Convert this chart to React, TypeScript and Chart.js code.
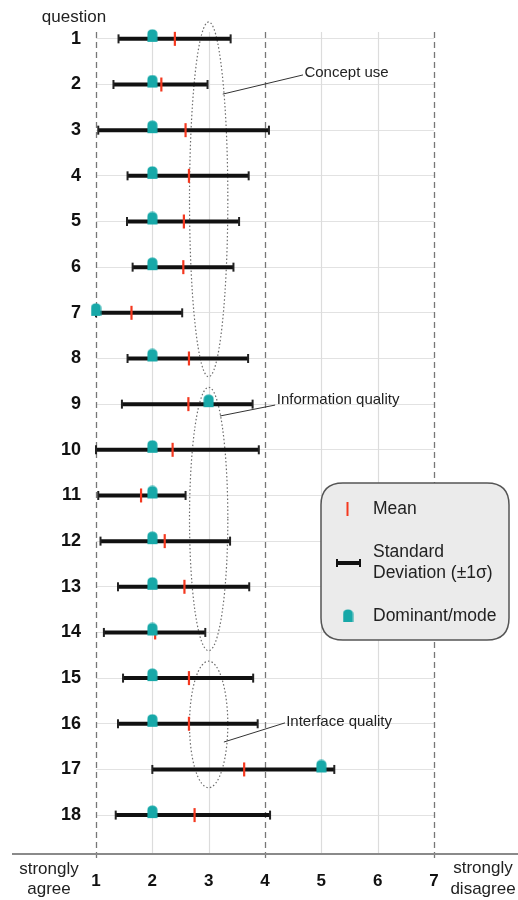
import React, { useEffect, useRef } from 'react';
import { Chart, registerables } from 'chart.js';

Chart.register(...registerables);

// ---------- data ----------
const questions = ['1', '2', '3', '4', '5', '6', '7', '8', '9', '10', '11', '12', '13', '14', '15', '16', '17', '18'];
const sdLow = [1.40, 1.31, 1.04, 1.56, 1.55, 1.65, 1.00, 1.56, 1.46, 1.00, 1.04, 1.08, 1.39, 1.14, 1.48, 1.39, 2.00, 1.35];
const sdHigh = [3.39, 2.98, 4.07, 3.71, 3.54, 3.44, 2.53, 3.70, 3.78, 3.89, 2.59, 3.38, 3.72, 2.94, 3.79, 3.87, 5.23, 4.09];
const means = [2.40, 2.16, 2.59, 2.65, 2.56, 2.55, 1.63, 2.65, 2.64, 2.36, 1.80, 2.22, 2.57, 2.05, 2.65, 2.65, 3.63, 2.75];
const modes = [2, 2, 2, 2, 2, 2, 1, 2, 3, 2, 2, 2, 2, 2, 2, 2, 5, 2];
const xTicks = [1, 2, 3, 4, 5, 6, 7];
const dashedTicks = [1, 4, 7];
const groupNames = ['Concept use', 'Information quality', 'Interface quality'];
const groupFirst = [1, 9, 15];
const groupLast = [8, 14, 17];

// ---------- layout / style ----------
const FONT = '"Liberation Sans", Arial, Helvetica, sans-serif';
const TEAL = '#17a8a8';
const RED = '#f4381f';
const BAR = '#111111';
const W = 518;
const H = 900;
// annotation leader lines, in data units [x, row]
const annot = [
  { from: [3.25, 2.21], to: [4.675, 1.79], text: [4.70, 1.74] },
  { from: [3.20, 9.26], to: [4.18, 9.02], text: [4.21, 8.91] },
  { from: [3.27, 16.40], to: [4.355, 15.98], text: [4.375, 15.96] },
];

const rows = questions.map((_, i) => i + 1);

function makeModeIcon(): HTMLCanvasElement {
  const c = document.createElement('canvas');
  c.width = 11;
  c.height = 20;
  const g = c.getContext('2d')!;
  g.fillStyle = TEAL;
  g.beginPath();
  g.moveTo(0.5, 13);
  g.lineTo(0.5, 5);
  g.quadraticCurveTo(0.5, 0.5, 5.5, 0.5);
  g.quadraticCurveTo(10.5, 0.5, 10.5, 5);
  g.lineTo(10.5, 13);
  g.closePath();
  g.fill();
  return c;
}

const decorPlugin = {
  id: 'decor',
  beforeDatasetsDraw(chart: any) {
    const { ctx, chartArea, scales } = chart;
    const xs = scales.x;
    const ys = scales.y;
    ctx.save();
    // vertical grid lines
    xTicks.forEach((v) => {
      const px = Math.round(xs.getPixelForValue(v)) + 0.5;
      ctx.beginPath();
      if (dashedTicks.includes(v)) {
        ctx.setLineDash([6, 4]);
        ctx.strokeStyle = '#777777';
        ctx.lineWidth = 1.3;
        ctx.moveTo(px, chartArea.top);
        ctx.lineTo(px, chartArea.bottom + 7);
      } else {
        ctx.setLineDash([]);
        ctx.strokeStyle = '#dcdcdc';
        ctx.lineWidth = 1.2;
        ctx.moveTo(px, chartArea.top);
        ctx.lineTo(px, chartArea.bottom);
      }
      ctx.stroke();
    });
    // dotted group ellipses
    ctx.setLineDash([1.5, 2.2]);
    ctx.strokeStyle = '#6c6c6c';
    ctx.lineWidth = 1.2;
    groupNames.forEach((_, i) => {
      const top = ys.getPixelForValue(groupFirst[i] - 0.37);
      const bottom = ys.getPixelForValue(groupLast[i] + 0.4);
      const cx = xs.getPixelForValue(3);
      const rx = xs.getPixelForValue(3.34) - cx;
      ctx.beginPath();
      ctx.ellipse(cx, (top + bottom) / 2, rx, (bottom - top) / 2, 0, 0, Math.PI * 2);
      ctx.stroke();
    });
    ctx.restore();
  },
  afterDatasetsDraw(chart: any) {
    const { ctx, chartArea, scales } = chart;
    const xs = scales.x;
    const ys = scales.y;
    ctx.save();
    // bottom axis line
    ctx.strokeStyle = '#8a8a8a';
    ctx.lineWidth = 2;
    ctx.beginPath();
    ctx.moveTo(12, chartArea.bottom + 1);
    ctx.lineTo(W, chartArea.bottom + 1);
    ctx.stroke();

    // annotations
    ctx.strokeStyle = '#333';
    ctx.lineWidth = 1;
    ctx.fillStyle = '#222';
    ctx.font = `15px ${FONT}`;
    ctx.textBaseline = 'middle';
    ctx.textAlign = 'left';
    annot.forEach((a, i) => {
      ctx.beginPath();
      ctx.moveTo(xs.getPixelForValue(a.from[0]), ys.getPixelForValue(a.from[1]));
      ctx.lineTo(xs.getPixelForValue(a.to[0]), ys.getPixelForValue(a.to[1]));
      ctx.stroke();
      ctx.fillText(groupNames[i], xs.getPixelForValue(a.text[0]), ys.getPixelForValue(a.text[1]));
    });

    // axis captions
    ctx.font = `17px ${FONT}`;
    ctx.fillStyle = '#222';
    ctx.textAlign = 'center';
    ctx.fillText('question', 74, 17);
    ctx.fillText('strongly', 49, 869);
    ctx.fillText('agree', 49, 889);
    ctx.fillText('strongly', 483, 868);
    ctx.fillText('disagree', 483, 889);

    // legend box
    const bx = 321, by = 483, bw = 188, bh = 157, r = 22;
    ctx.beginPath();
    ctx.moveTo(bx + r, by);
    ctx.lineTo(bx + bw - r, by);
    ctx.quadraticCurveTo(bx + bw, by, bx + bw, by + r);
    ctx.lineTo(bx + bw, by + bh - r);
    ctx.quadraticCurveTo(bx + bw, by + bh, bx + bw - r, by + bh);
    ctx.lineTo(bx + r, by + bh);
    ctx.quadraticCurveTo(bx, by + bh, bx, by + bh - r);
    ctx.lineTo(bx, by + r);
    ctx.quadraticCurveTo(bx, by, bx + r, by);
    ctx.closePath();
    ctx.fillStyle = '#ebebeb';
    ctx.fill();
    ctx.strokeStyle = '#555';
    ctx.lineWidth = 1.5;
    ctx.stroke();

    // legend: mean
    ctx.strokeStyle = RED;
    ctx.lineWidth = 2;
    ctx.beginPath();
    ctx.moveTo(347.5, 502);
    ctx.lineTo(347.5, 516);
    ctx.stroke();
    // legend: sd
    ctx.strokeStyle = BAR;
    ctx.lineWidth = 4;
    ctx.beginPath();
    ctx.moveTo(336, 563);
    ctx.lineTo(361, 563);
    ctx.stroke();
    ctx.lineWidth = 2;
    ctx.beginPath();
    ctx.moveTo(337, 559);
    ctx.lineTo(337, 567);
    ctx.moveTo(360, 559);
    ctx.lineTo(360, 567);
    ctx.stroke();
    // legend: mode
    const icon = makeModeIcon();
    ctx.drawImage(icon, 348 - icon.width / 2, 619 - icon.height / 2);

    ctx.fillStyle = '#222';
    ctx.font = `17.5px ${FONT}`;
    ctx.textAlign = 'left';
    ctx.fillText('Mean', 373, 509);
    ctx.fillText('Standard', 373, 552);
    ctx.fillText('Deviation (\u00B11\u03C3)', 373, 573);
    ctx.fillText('Dominant/mode', 373, 616);
    ctx.restore();
  },
};

export default function App() {
  const ref = useRef<HTMLCanvasElement>(null);

  useEffect(() => {
    document.body.style.margin = '0';
    const canvas = ref.current;
    if (!canvas) return;
    const modeIcon = makeModeIcon();

    const barSets = rows.map((r, i) => ({
      type: 'scatter' as const,
      data: [
        { x: sdLow[i], y: r },
        { x: sdHigh[i], y: r },
      ],
      showLine: true,
      borderColor: BAR,
      borderWidth: 4,
      borderCapStyle: 'butt',
      pointStyle: 'line',
      rotation: 90,
      pointRadius: 4.5,
      pointBorderWidth: 2,
      pointBorderColor: '#222',
      pointBackgroundColor: '#222',
      clip: false,
      order: 3,
    }));

    const chart = new Chart(canvas, {
      type: 'scatter',
      data: {
        datasets: [
          {
            label: 'Dominant/mode',
            data: rows.map((r, i) => ({ x: modes[i], y: r })),
            pointStyle: modeIcon as any,
            pointRadius: 6,
            clip: false as any,
            order: 1,
          },
          {
            label: 'Mean',
            data: rows.map((r, i) => ({ x: means[i], y: r })),
            pointStyle: 'line',
            rotation: 90,
            pointRadius: 7,
            pointBorderWidth: 2.2,
            pointBorderColor: RED,
            pointBackgroundColor: RED,
            clip: false as any,
            order: 2,
          },
          ...(barSets as any[]),
        ],
      },
      options: {
        responsive: false,
        maintainAspectRatio: false,
        animation: false,
        events: [],
        layout: { padding: { top: 32, right: 84, left: 0, bottom: 0 } },
        plugins: { legend: { display: false }, tooltip: { enabled: false } },
        scales: {
          x: {
            type: 'linear',
            min: 1,
            max: 7,
            afterBuildTicks: (s: any) => {
              s.ticks = xTicks.map((v) => ({ value: v }));
            },
            afterFit: (s: any) => {
              s.height = 47;
            },
            grid: { display: false, drawTicks: false },
            border: { display: false },
            ticks: {
              padding: 18,
              color: '#111',
              font: { family: FONT, size: 17, weight: 'bold' },
            },
          },
          y: {
            type: 'linear',
            reverse: true,
            min: 0.85,
            max: 18.83,
            afterBuildTicks: (s: any) => {
              s.ticks = rows.map((v) => ({ value: v }));
            },
            afterFit: (s: any) => {
              s.width = 96;
            },
            grid: { color: '#e2e2e2', lineWidth: 1, drawTicks: false },
            border: { display: false },
            ticks: {
              padding: 15,
              color: '#111',
              font: { family: FONT, size: 18, weight: 'bold' },
              callback: (_v: any, i: number) => questions[i],
            },
          },
        },
      } as any,
      plugins: [decorPlugin],
    });

    return () => chart.destroy();
  }, []);

  return <canvas ref={ref} width={W} height={H} style={{ display: 'block', width: W, height: H }} />;
}
